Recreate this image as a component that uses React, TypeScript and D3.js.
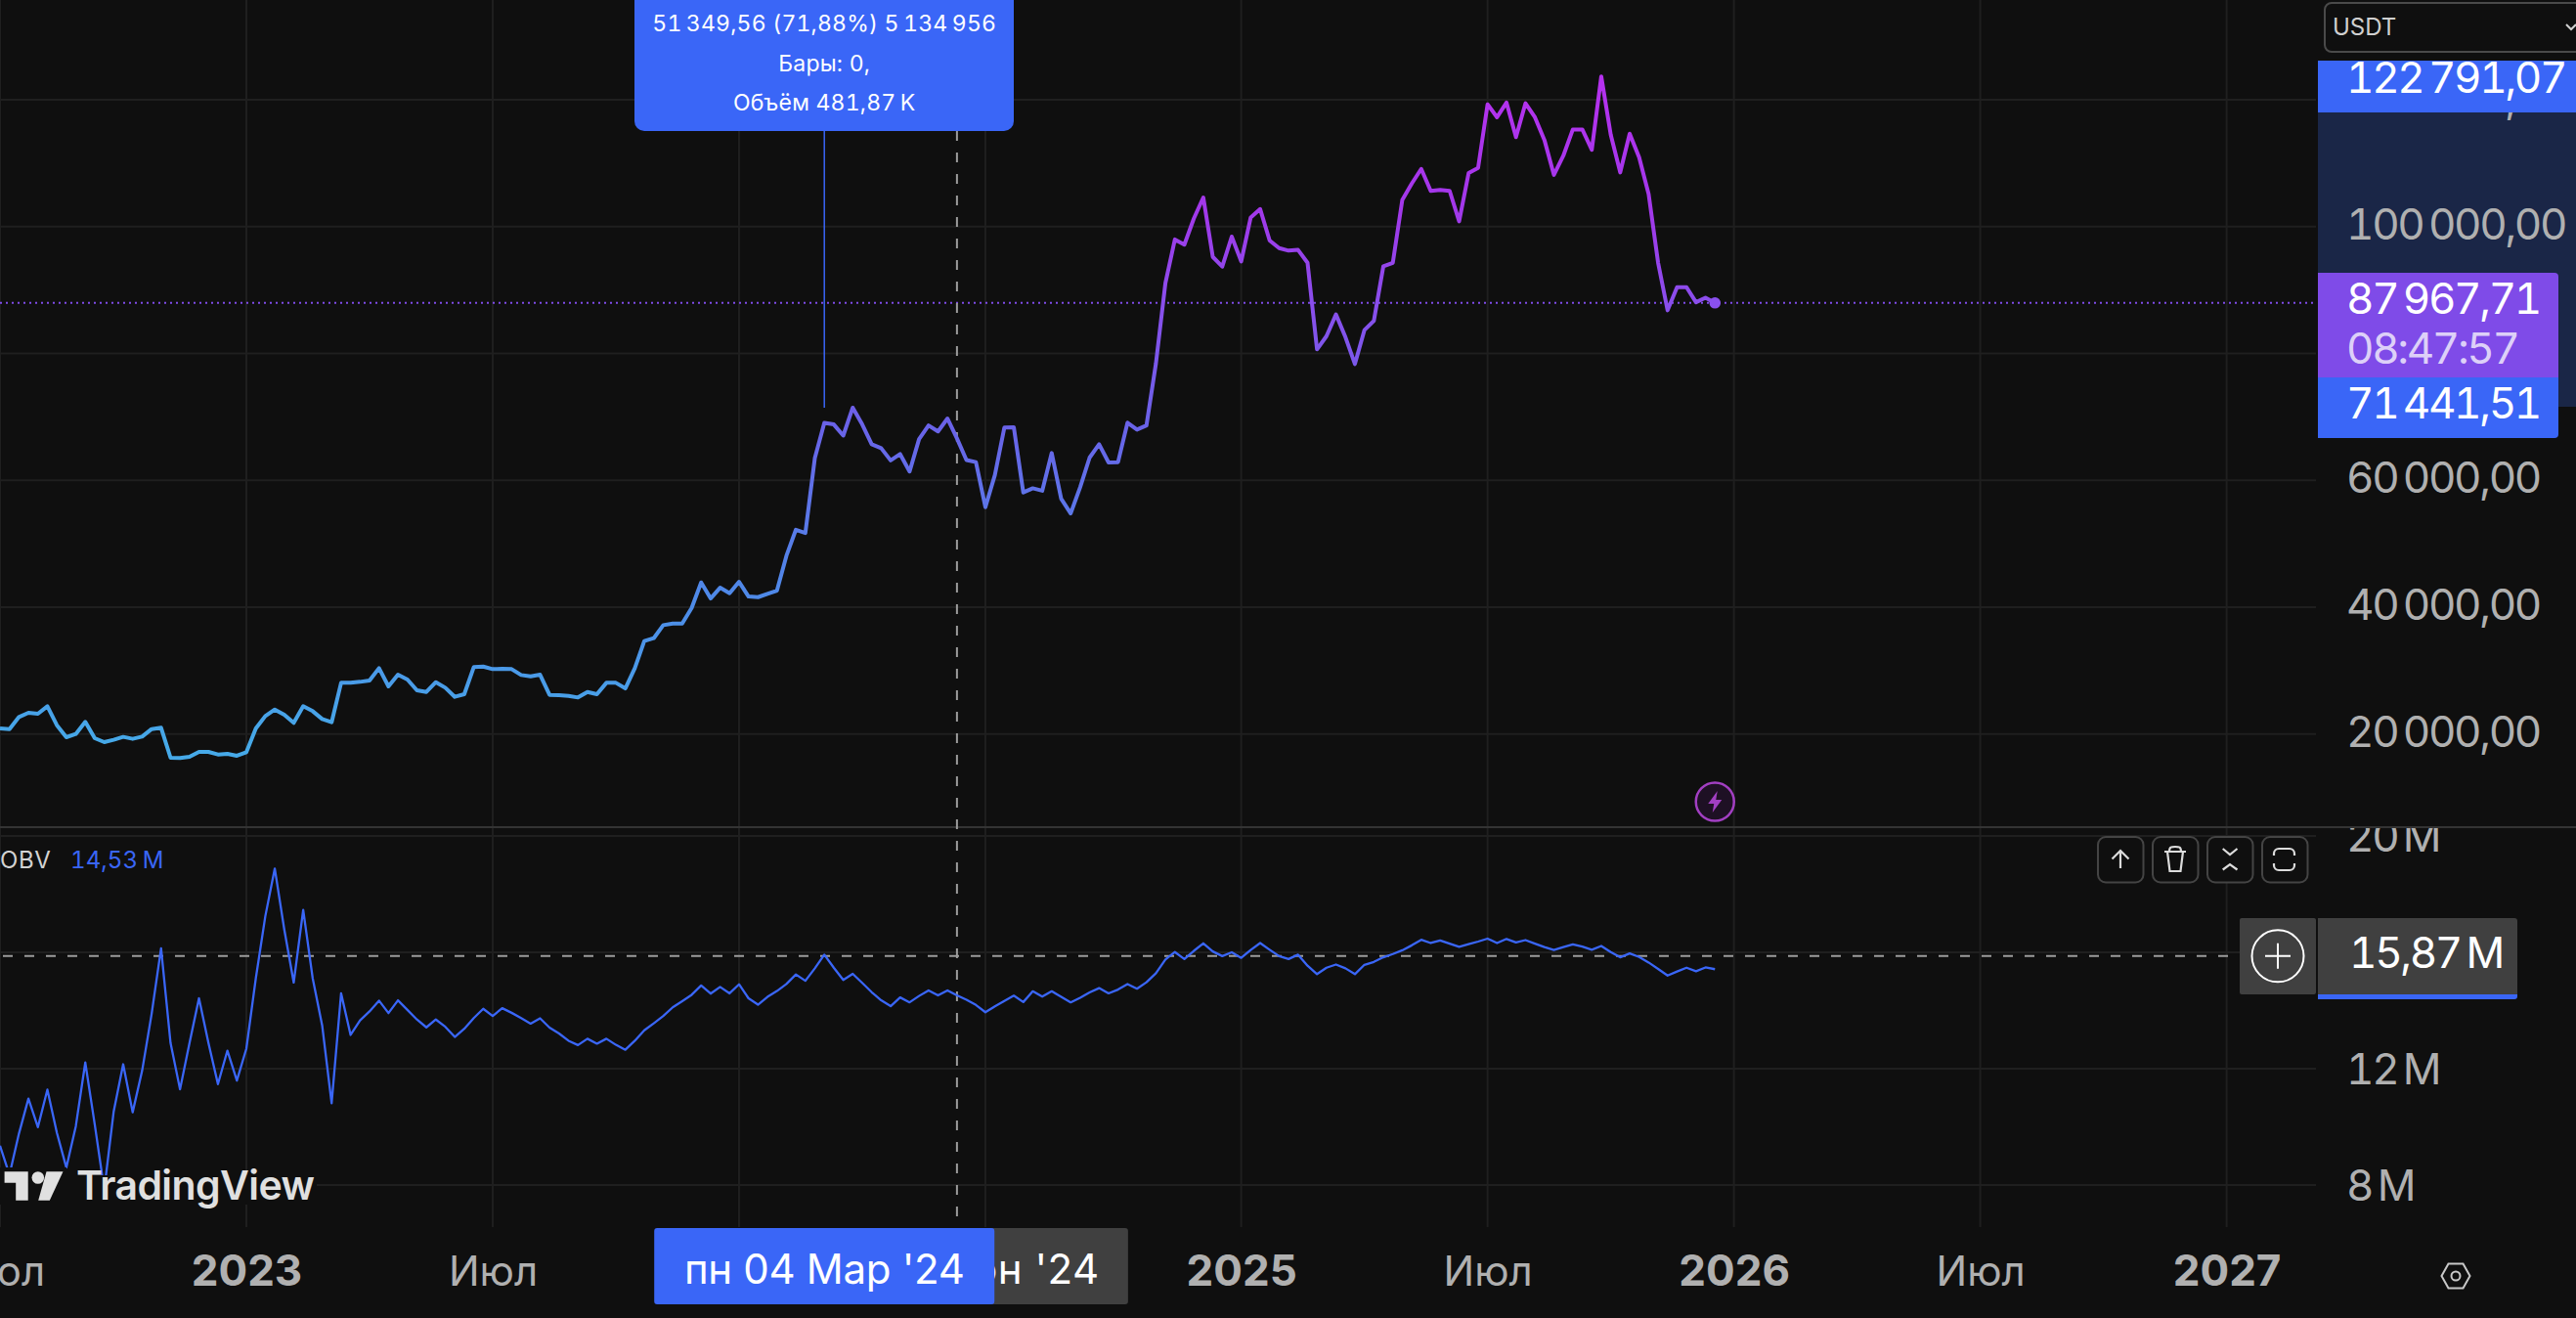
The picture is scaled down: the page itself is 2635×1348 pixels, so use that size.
import { useEffect, useRef } from 'react';
import * as d3 from 'd3';

// weekly closes, 2022-07-04 .. 2025-12-22
const priceValues = [
  20878, 20776, 22676, 23343, 23190, 24371, 21392, 19492, 20005, 21906,
  19338, 18721, 19081, 19543, 19235, 19594, 20776, 20981, 16256, 16205,
  16410, 17180, 17180, 16770, 16872, 16564, 17129, 20878, 22830, 23857,
  23035, 21751, 24371, 23600, 22368, 21854, 28069, 28069, 28223, 28428,
  30380, 27504, 29353, 28583, 26888, 26631, 28171, 27298, 25860, 26271,
  30534, 30637, 30226, 30277, 30226, 29301, 29096, 29353, 26169, 26117,
  26015, 25758, 26631, 26271, 28069, 28069, 27195, 30380, 34643, 35105,
  37160, 37416, 37416, 39882, 43888, 41371, 43066, 42193, 43990, 41679,
  41576, 42090, 42604, 48099, 52208, 51694, 63507, 69054, 68808, 67047,
  71449, 68808, 65671, 65066, 63139, 64130, 61378, 66496, 68642, 67707,
  69743, 66606, 63194, 62866, 55765, 60828, 68312, 68367, 58077, 58737,
  58352, 64295, 57086, 54775, 58902, 63580, 65671, 62809, 62866, 69083,
  67982, 68642, 78438, 91095, 97974, 97148, 101275, 104577, 95222, 93682,
  98414, 94507, 101440, 102761, 97808, 96598, 96212, 96322, 94286, 80639,
  82730, 86142, 82565, 78328, 83666, 85151, 93736, 94286, 104192, 106778,
  109090, 105623, 105788, 105623, 100834, 108429, 109255, 119270, 117234, 119545,
  114097, 119435, 117234, 113657, 108154, 111181, 115308, 115308, 112116, 123672,
  114483, 108539, 114648, 110905, 105127, 94286, 86802, 90437, 90437, 88066,
  88781, 87967,
];

// OBV in millions, same weeks
const obvValues = [
  9.35, 8.35, 9.77, 10.97, 9.99, 11.28, 9.8, 8.6, 10.02, 12.21,
  10.08, 7.84, 10.53, 12.15, 10.5, 11.93, 13.88, 16.14, 12.88, 11.29,
  12.88, 14.42, 12.88, 11.47, 12.62, 11.59, 12.69, 15.11, 17.24, 18.88,
  16.79, 14.96, 17.46, 15.11, 13.49, 10.81, 14.59, 13.16, 13.66, 13.97,
  14.34, 13.91, 14.35, 14.02, 13.69, 13.42, 13.69, 13.44, 13.09, 13.37,
  13.74, 14.06, 13.81, 14.08, 13.92, 13.74, 13.55, 13.73, 13.41, 13.21,
  12.96, 12.81, 13.03, 12.86, 13.03, 12.82, 12.65, 12.96, 13.32, 13.56,
  13.81, 14.11, 14.32, 14.54, 14.86, 14.58, 14.81, 14.59, 14.9, 14.42,
  14.2, 14.47, 14.67, 14.91, 15.24, 15.02, 15.45, 15.92, 15.47, 15.05,
  15.26, 14.95, 14.63, 14.35, 14.15, 14.45, 14.28, 14.5, 14.69, 14.52,
  14.69, 14.52, 14.37, 14.19, 13.94, 14.14, 14.33, 14.51, 14.29, 14.66,
  14.48, 14.66, 14.47, 14.28, 14.44, 14.62, 14.77, 14.59, 14.72, 14.91,
  14.75, 14.97, 15.28, 15.75, 16.01, 15.77, 16.05, 16.31, 16.03, 15.87,
  16.0, 15.81, 16.08, 16.32, 16.09, 15.87, 15.77, 15.92, 15.54, 15.25,
  15.47, 15.58, 15.45, 15.25, 15.57, 15.67, 15.83, 15.94, 16.07, 16.24,
  16.43, 16.32, 16.41, 16.3, 16.19, 16.28, 16.37, 16.47, 16.32, 16.46,
  16.34, 16.42, 16.3, 16.18, 16.08, 16.18, 16.27, 16.2, 16.09, 16.22,
  16.01, 15.83, 15.96, 15.84, 15.65, 15.43, 15.2, 15.34, 15.47, 15.35,
  15.48, 15.42,
];

const priceTicks = [20000, 40000, 60000, 80000, 100000, 120000];
const obvTicks = [8, 12, 16, 20];
const timeTicks = ['2022-07-04', '2023-01-02', '2023-07-03', '2024-01-01', '2024-07-01', '2025-01-06', '2025-07-07', '2026-01-05', '2026-07-06', '2027-01-04'];
const timeLabels = ['Июл', '2023', 'Июл', '2024', 'Июл', '2025', 'Июл', '2026', 'Июл', '2027'];

const lastPrice = 87967.71;
const highPrice = 122791.07;
const lowPrice = 71441.51;
const crossObv = 15.87;
const measureDate = '2024-03-04';
const crossDate = '2024-06-10';

const bg = '#0f0f0f';
const grid = '#1f1f1f';
const blue = '#3a66f7';
const purple = '#7f4be8';
const gray = '#404040';
const labelColor = '#b0b0b0';
const font = 'Inter, sans-serif';

const W = 2635;
const H = 1348;

const App = () => {
  const svgRef = useRef(null);

  useEffect(() => {
    const svg = d3.select(svgRef.current);
    svg.selectAll('*').remove();
    document.body.style.background = bg;

    const fmt = d3.formatLocale({ decimal: ',', thousands: '\u2009', grouping: [3], currency: ['', ''] });
    const price = fmt.format(',.2f');
    const day = (s) => new Date(s + 'T00:00:00Z');

    const weeks = d3.utcMonday.range(day('2022-07-04'), day('2025-12-23'));
    const x = d3.scaleUtc().domain([day('2023-01-02'), day('2027-01-04')]).range([252, 2277.6]);
    const yPrice = d3.scaleLinear().domain([20000, 120000]).range([750.7, 102]);
    const yObv = d3.scaleLinear().domain([8, 20]).range([1212, 855]);

    const defs = svg.append('defs');
    const grad = defs.append('linearGradient')
      .attr('id', 'priceGrad')
      .attr('gradientUnits', 'userSpaceOnUse')
      .attr('x1', 0).attr('x2', 0).attr('y1', 78).attr('y2', 760);
    [[0, '#b631ef'], [0.2, '#a238ea'], [0.34, '#8a4eec'], [0.52, '#6a62e8'], [0.77, '#4f88e8'], [1, '#46a9e8']]
      .forEach(([o, c]) => grad.append('stop').attr('offset', o).attr('stop-color', c));
    // clip is in the axis group's translated space
    defs.append('clipPath').attr('id', 'obvAxisClip')
      .append('rect').attr('x', -29).attr('y', 847).attr('width', 264).attr('height', 400);

    svg.append('rect').attr('width', W).attr('height', H).attr('fill', bg);

    // grid
    svg.append('g').selectAll('line').data(timeTicks).join('line')
      .attr('x1', d => x(day(d))).attr('x2', d => x(day(d)))
      .attr('y1', 0).attr('y2', 1255)
      .attr('stroke', grid).attr('stroke-width', 2);
    svg.append('g').selectAll('line').data(priceTicks).join('line')
      .attr('x1', 0).attr('x2', 2369)
      .attr('y1', d => yPrice(d)).attr('y2', d => yPrice(d))
      .attr('stroke', grid).attr('stroke-width', 2);
    svg.append('g').selectAll('line').data(obvTicks).join('line')
      .attr('x1', 0).attr('x2', 2369)
      .attr('y1', d => yObv(d)).attr('y2', d => yObv(d))
      .attr('stroke', grid).attr('stroke-width', 2);

    // pane separator
    svg.append('line').attr('x1', 0).attr('x2', W).attr('y1', 846).attr('y2', 846)
      .attr('stroke', '#343434').attr('stroke-width', 2);

    // last price line
    svg.append('line')
      .attr('x1', 0).attr('x2', 2366)
      .attr('y1', yPrice(lastPrice)).attr('y2', yPrice(lastPrice))
      .attr('stroke', purple).attr('stroke-width', 2).attr('stroke-dasharray', '2 4');

    // crosshair
    svg.append('line')
      .attr('x1', x(day(crossDate))).attr('x2', x(day(crossDate)))
      .attr('y1', 134).attr('y2', 1256)
      .attr('stroke', '#9c9c9c').attr('stroke-width', 2).attr('stroke-dasharray', '10 12');
    svg.append('line')
      .attr('x1', 3).attr('x2', 2291).attr('y1', yObv(crossObv)).attr('y2', yObv(crossObv))
      .attr('stroke', '#9c9c9c').attr('stroke-width', 2).attr('stroke-dasharray', '10 12');

    // measure line
    svg.append('line')
      .attr('x1', x(day(measureDate))).attr('x2', x(day(measureDate)))
      .attr('y1', 134).attr('y2', 417)
      .attr('stroke', blue).attr('stroke-width', 1.5);

    // price line
    const priceLine = d3.line<number>()
      .x((_, i) => x(weeks[i]))
      .y(d => yPrice(d));
    svg.append('path').attr('d', priceLine(priceValues))
      .attr('fill', 'none').attr('stroke', 'url(#priceGrad)')
      .attr('stroke-width', 4).attr('stroke-linejoin', 'round');
    svg.append('circle')
      .attr('cx', x(weeks[weeks.length - 1])).attr('cy', yPrice(lastPrice)).attr('r', 5.8)
      .attr('fill', '#8a50ef');

    // obv line
    const obvLine = d3.line<number>()
      .x((_, i) => x(weeks[i]))
      .y(d => yObv(d));
    svg.append('path').attr('d', obvLine(obvValues))
      .attr('fill', 'none').attr('stroke', blue)
      .attr('stroke-width', 2.3).attr('stroke-linejoin', 'round');

    // logo sits on a patch of background
    svg.append('rect').attr('x', 0).attr('y', 1194).attr('width', 68).attr('height', 38).attr('fill', bg);
    svg.append('rect').attr('x', 68).attr('y', 1202).attr('width', 256).attr('height', 30).attr('fill', bg);
    const logo = svg.append('g').attr('fill', '#e0e0e0');
    logo.append('path').attr('d', 'M4.6 1198.3H28.7V1227.7H16.2V1209.8H4.6Z');
    logo.append('circle').attr('cx', 38.8).attr('cy', 1204.5).attr('r', 6.3);
    logo.append('path').attr('d', 'M47.5 1198.3H64.5L50.8 1227.7H39.2Z');
    logo.append('text').attr('x', 78).attr('y', 1227)
      .attr('font-family', font).attr('font-size', 41).attr('font-weight', 600).attr('letter-spacing', -0.6)
      .text('TradingView');

    // legend
    svg.append('text').attr('x', 0).attr('y', 888)
      .attr('font-family', font).attr('font-size', 24).attr('letter-spacing', 0.6).attr('fill', '#d2d2d2').text('OBV');
    svg.append('text').attr('x', 72).attr('y', 888)
      .attr('font-family', font).attr('font-size', 24).attr('letter-spacing', 0.1)
      .style('font-variant-numeric', 'tabular-nums')
      .attr('fill', blue).text('14,53\u2009M');

    // dividends style badge
    const badge = svg.append('g').attr('transform', `translate(${x(weeks[weeks.length - 1])},820)`);
    badge.append('circle').attr('r', 19.5).attr('fill', '#1e1024').attr('stroke', '#a23fc2').attr('stroke-width', 2.5);
    badge.append('path').attr('d', 'M2.5-11L-7 2H-1L-2.5 11L7-2H1Z').attr('fill', '#a23fc2');

    // pane buttons
    const buttons = [
      ['M2169 888V870M2160.5 878.5L2169 870L2177.5 878.5'],
      ['M2214 871H2236M2219 871C2219 866 2221 866 2225 866S2231 866 2231 871M2217 871L2219.5 891H2230.5L2233 871'],
      ['M2273.7 868L2281 874L2288.5 868M2273.7 889.5L2281 884L2288.5 889.5'],
      ['M2326 875V873A5 5 0 0 1 2331 868H2342A5 5 0 0 1 2347 873V875M2326 883V885A5 5 0 0 0 2331 890H2342A5 5 0 0 0 2347 885V883'],
    ];
    const btnX = d3.scaleLinear().domain([0, 3]).range([2146, 2314]);
    buttons.forEach(([d], i) => {
      svg.append('rect').attr('x', btnX(i)).attr('y', 856).attr('width', 46.5).attr('height', 46.5).attr('rx', 8)
        .attr('fill', bg).attr('stroke', '#444').attr('stroke-width', 2);
      svg.append('path').attr('d', d).attr('fill', 'none').attr('stroke', '#dcdcdc').attr('stroke-width', 2.2);
    });

    // tooltip
    svg.append('path')
      .attr('d', 'M649 0H1037V124A10 10 0 0 1 1027 134H659A10 10 0 0 1 649 124Z')
      .attr('fill', blue);
    const tipLines = ['51\u2009349,56 (71,88%) 5\u2009134\u2009956', 'Бары: 0,', 'Объём 481,87\u2009K'];
    const tipY = [32, 73, 113];
    svg.append('g').selectAll('text').data(tipLines).join('text')
      .attr('x', x(day(measureDate))).attr('y', (_, i) => tipY[i])
      .attr('text-anchor', 'middle')
      .attr('font-family', font).attr('font-size', 23).attr('letter-spacing', 0.2)
      .style('font-variant-numeric', 'tabular-nums')
      .attr('fill', '#fff')
      .text(d => d);

    // time axis
    const timeAxis = d3.axisBottom(x)
      .tickValues(timeTicks.map(day))
      .tickSize(0)
      .tickPadding(0)
      .tickFormat((_, i) => timeLabels[i]);
    const tg = svg.append('g').attr('transform', 'translate(0,1315)').call(timeAxis);
    tg.select('.domain').remove();
    tg.selectAll('text')
      .attr('y', 0).attr('dy', 0)
      .attr('font-family', font)
      .attr('font-size', (_, i) => (timeLabels[i] === 'Июл' ? 42 : 44))
      .attr('font-weight', (_, i) => (timeLabels[i] === 'Июл' ? 400 : 700))
      .attr('fill', labelColor);

    // price scale
    const scaleText = (sel) => sel
      .attr('font-family', font).attr('font-size', 44).attr('letter-spacing', -2.4)
      .style('font-variant-numeric', 'tabular-nums');

    svg.append('rect').attr('x', 2371).attr('y', 115).attr('width', 264).attr('height', 301).attr('fill', '#1a2647');
    const priceAxis = d3.axisRight(yPrice).tickValues(priceTicks).tickSize(0).tickPadding(0).tickFormat(d => price(d));
    const pg = svg.append('g').attr('transform', 'translate(2400,0)').call(priceAxis);
    pg.select('.domain').remove();
    pg.selectAll('text')
      .attr('x', 0).attr('dy', 12.5)
      .call(scaleText).attr('fill', labelColor);

    const obvAxis = d3.axisRight(yObv).tickValues(obvTicks.filter(d => d !== 16)).tickSize(0).tickPadding(0)
      .tickFormat(d => `${d}\u2009M`);
    const og = svg.append('g').attr('transform', 'translate(2400,0)').attr('clip-path', 'url(#obvAxisClip)').call(obvAxis);
    og.select('.domain').remove();
    og.selectAll('text')
      .attr('x', 0).attr('dy', 15.5)
      .call(scaleText).attr('fill', labelColor);

    // tags on the price scale
    const tag = (text, yBase, fill = '#fff') =>
      svg.append('text').attr('x', 2400).attr('y', yBase)
        .call(scaleText).attr('fill', fill).text(text);

    svg.append('rect').attr('x', 2371).attr('y', 62).attr('width', 264).attr('height', 53).attr('fill', blue);
    tag(price(highPrice), 95);

    svg.append('path').attr('d', 'M2371 279H2613A4 4 0 0 1 2617 283V386H2371Z').attr('fill', purple);
    tag(price(lastPrice), 321);
    tag('08:47:57', 372, '#ddd0f8');

    svg.append('path').attr('d', 'M2371 386H2617V444A4 4 0 0 1 2613 448H2371Z').attr('fill', blue);
    tag(price(lowPrice), 428);

    // USDT box
    svg.append('rect').attr('x', 2378).attr('y', 3).attr('width', 270).attr('height', 50).attr('rx', 7)
      .attr('fill', bg).attr('stroke', '#4a4a4a').attr('stroke-width', 2);
    svg.append('text').attr('x', 2386).attr('y', 36)
      .attr('font-family', font).attr('font-size', 24).attr('fill', '#d0d0d0').text('USDT');
    svg.append('path').attr('d', 'M2625 25L2630 30L2635 25').attr('fill', 'none').attr('stroke', '#d0d0d0').attr('stroke-width', 2);

    // obv crosshair tag
    svg.append('rect').attr('x', 2291).attr('y', 939).attr('width', 78).attr('height', 78).attr('rx', 2).attr('fill', gray);
    svg.append('circle').attr('cx', 2330).attr('cy', yObv(crossObv)).attr('r', 26.5)
      .attr('fill', 'none').attr('stroke', '#fff').attr('stroke-width', 2);
    svg.append('path').attr('d', `M2317 ${yObv(crossObv)}H2343M2330 ${yObv(crossObv) - 13}V${yObv(crossObv) + 13}`)
      .attr('stroke', '#fff').attr('stroke-width', 2);
    svg.append('path').attr('d', 'M2371 1014H2575V1019A3 3 0 0 1 2572 1022H2371Z').attr('fill', blue);
    svg.append('path').attr('d', 'M2371 939H2572A3 3 0 0 1 2575 942V1017H2371Z').attr('fill', gray);
    svg.append('text').attr('x', 2403).attr('y', 989.5)
      .call(scaleText).attr('fill', '#fff')
      .text('15,87\u2009M');

    // date tags, crosshair one under the measure one
    const dateTag = (d, half, fill, text, spacing) => {
      svg.append('rect').attr('x', x(day(d)) - half).attr('y', 1256).attr('width', half * 2).attr('height', 78).attr('rx', 3).attr('fill', fill);
      svg.append('text').attr('x', x(day(d))).attr('y', 1313)
        .attr('text-anchor', 'middle')
        .attr('font-family', font).attr('font-size', 42).attr('letter-spacing', spacing).attr('fill', '#fff').text(text);
    };
    dateTag(crossDate, 175, gray, "пн 10 Июн '24", 0.5);
    dateTag(measureDate, 174, blue, "пн 04 Мар '24", -0.3);

    // settings hexagon
    svg.append('path').attr('d', 'M2497.5 1305L2504.5 1292.5H2519.5L2526.5 1305L2519.5 1317.5H2504.5Z')
      .attr('fill', 'none').attr('stroke', '#c8c8c8').attr('stroke-width', 2);
    svg.append('circle').attr('cx', 2512).attr('cy', 1305).attr('r', 4.5)
      .attr('fill', 'none').attr('stroke', '#c8c8c8').attr('stroke-width', 2);
  }, []);

  return (
    <svg
      ref={svgRef}
      width={W}
      height={H}
      style={{ position: 'fixed', left: 0, top: 0, display: 'block' }}
    />
  );
};

export default App;
